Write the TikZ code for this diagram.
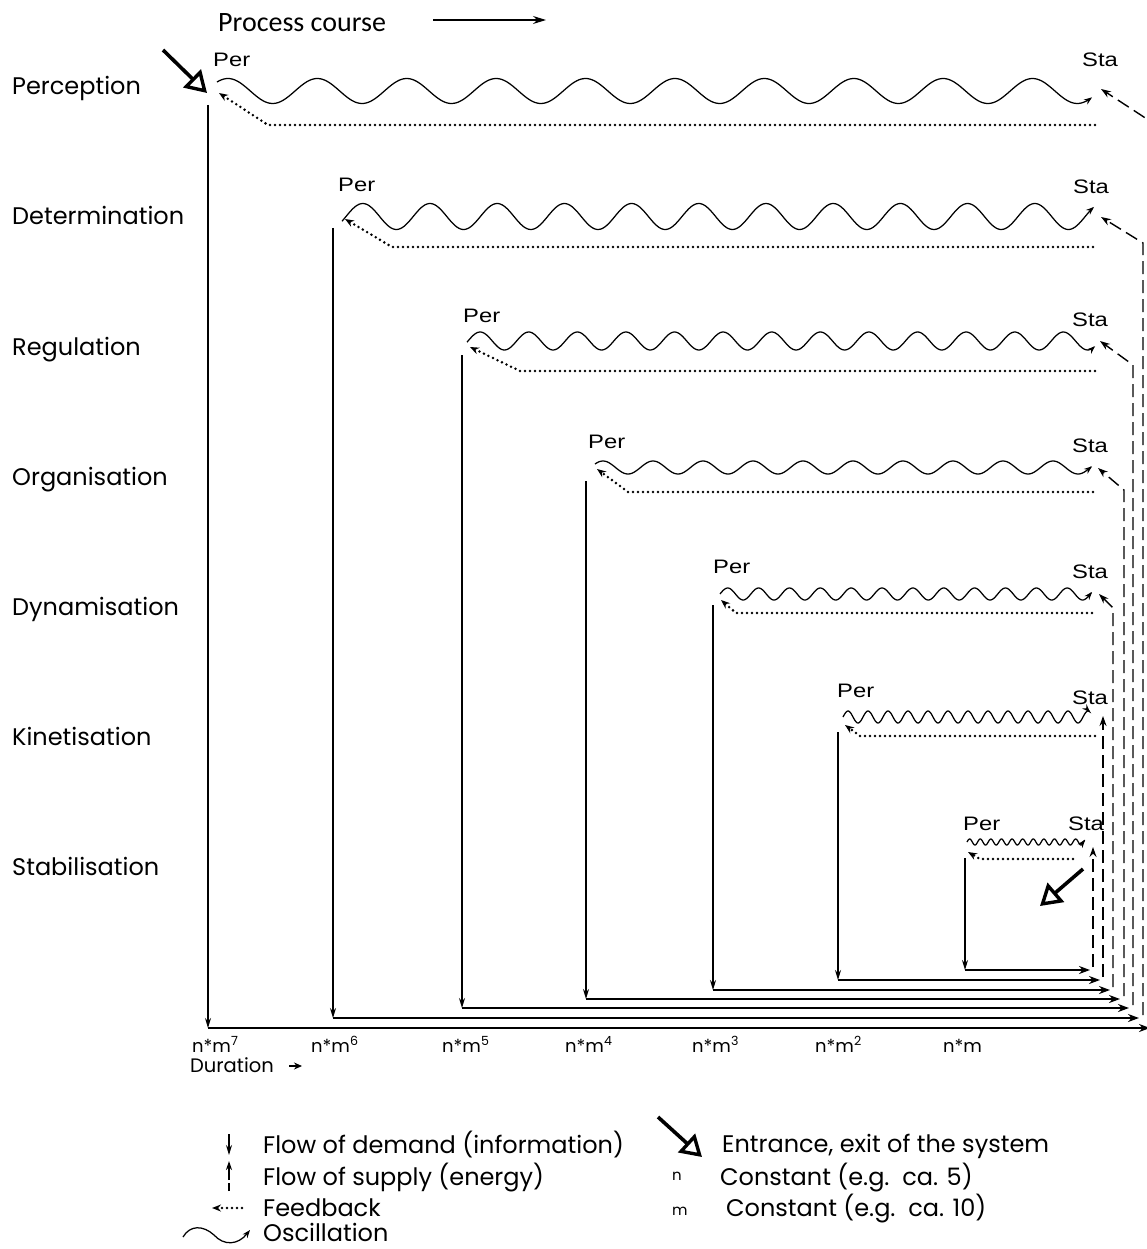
\documentclass[tikz,border=0pt]{standalone}
\usepackage{fontspec}
\usetikzlibrary{arrows.meta}
\newfontfamily\gothic{Poppins}
\newfontfamily\helvw[FakeStretch=1.22]{Liberation Sans}
\newfontfamily\calib{Carlito}

% oscillation: #1 x of phase 0, #2 centre y, #3 amplitude, #4 period, #5 start x, #6 end x
\newcommand\oscwave[6]{%
  \pgfmathsetmacro\oscA{(#5-#1)/#4*360}%
  \pgfmathsetmacro\oscB{(#6-#1)/#4*360}%
  \draw[osc] plot[variable=\t,domain=\oscA:\oscB,samples=400,smooth]
    ({#1+\t/360*#4},{#2-#3*sin(\t)});
}
\newcommand\nmexp[1]{n*m\textsuperscript{#1}}

\begin{document}
\begin{tikzpicture}[x=1pt,y=-1pt,
  lvl/.style={font=\gothic\fontsize{24}{28}\selectfont,anchor=base west,inner sep=0pt},
  tag/.style={font=\helvw\fontsize{19.5}{22}\selectfont,anchor=base west,inner sep=0pt},
  dur/.style={font=\gothic\fontsize{18}{20}\selectfont,anchor=base west,inner sep=0pt},
  small/.style={font=\gothic\fontsize{15}{17}\selectfont,anchor=base west,inner sep=0pt},
  osc/.style={line width=1.25pt,-{Stealth[length=8pt,width=6pt]}},
  demand/.style={line width=1.3pt,-{Stealth[length=10pt,width=6pt]}},
  supply/.style={line width=2.6pt,-{Stealth[length=11pt,width=8pt]}},
  ret/.style={line width=1.4pt,dash pattern=on 13pt off 6pt,-{Stealth[length=10pt,width=7pt]}},
  fb/.style={line width=2.8pt,line cap=round,dash pattern=on 0pt off 5pt,-{Stealth[length=9pt,width=7pt]}},
  io/.style={line width=3.6pt,-{Triangle[open,length=21pt,width=25pt,line width=3.4pt]}},
]
\fill[white] (0,0) rectangle (1147,1249);
\useasboundingbox (0,0) rectangle (1147,1249);

% heading
\node[font=\calib\fontsize{28}{32}\selectfont,anchor=base west,inner sep=0pt] (course) at (218,32) {Process course};
\coordinate (cA) at (433,20);
\coordinate (cB) at (546,20);
\draw[line width=1.3pt,-{Stealth[length=13pt,width=8pt]}] (cA) -- (cB);

% level names
\node[lvl] (lab1) at (12,95)  {Perception};
\node[lvl] (lab2) at (12,225) {Determination};
\node[lvl] (lab3) at (12,355) {Regulation};
\node[lvl] (lab4) at (12,485) {Organisation};
\node[lvl] (lab5) at (12,615) {Dynamisation};
\node[lvl] (lab6) at (12,745) {Kinetisation};
\node[lvl] (lab7) at (12,875) {Stabilisation};

% Per / Sta tags
\node[tag] (per1) at (213,67)  {Per}; \node[tag] (sta1) at (1082,67)  {Sta};
\node[tag] (per2) at (338,192) {Per}; \node[tag] (sta2) at (1073,194) {Sta};
\node[tag] (per3) at (463,322) {Per}; \node[tag] (sta3) at (1072,326) {Sta};
\node[tag] (per4) at (588,448) {Per}; \node[tag] (sta4) at (1072,452) {Sta};
\node[tag] (per5) at (713,573) {Per}; \node[tag] (sta5) at (1072,578) {Sta};
\node[tag] (per6) at (837,697) {Per}; \node[tag] (sta6) at (1072,704) {Sta};
\node[tag] (per7) at (963,830) {Per}; \node[tag] (sta7) at (1068,830) {Sta};

% oscillations
\oscwave{205.6}{91}{12.5}{89.4}{217}{1092}
\oscwave{346}{216.5}{13}{67.2}{342}{1094}
\oscwave{468}{341}{9}{48.6}{467}{1095}
\oscwave{590.5}{467.5}{6.5}{50}{595}{1092}
\oscwave{720}{594}{6}{30.86}{720}{1092}
\oscwave{843}{717}{6}{20}{843}{1090}
\oscwave{967}{842}{3}{10.6}{967}{1085}

% connector points per level
\coordinate (dT1) at (208,105);  \coordinate (dB1) at (208,1028); \coordinate (hE1) at (1150,1028);
\coordinate (rB1) at (1153,1025); \coordinate (rK1) at (1153,123); \coordinate (rT1) at (1101,89);
\coordinate (fR1) at (1095,125); \coordinate (fK1) at (268,125); \coordinate (fT1) at (219,93);

\coordinate (dT2) at (333,228);  \coordinate (dB2) at (333,1018); \coordinate (hE2) at (1139,1018);
\coordinate (rB2) at (1143,1015); \coordinate (rK2) at (1143,243); \coordinate (rT2) at (1101,217);
\coordinate (fR2) at (1093,247); \coordinate (fK2) at (392,247); \coordinate (fT2) at (345,219);

\coordinate (dT3) at (462,355);  \coordinate (dB3) at (462,1008); \coordinate (hE3) at (1129,1008);
\coordinate (rB3) at (1133,1005); \coordinate (rK3) at (1133,365); \coordinate (rT3) at (1100,341);
\coordinate (fR3) at (1095,371); \coordinate (fK3) at (520,371); \coordinate (fT3) at (470,347);

\coordinate (dT4) at (586,481);  \coordinate (dB4) at (586,999); \coordinate (hE4) at (1120,999);
\coordinate (rB4) at (1124,996); \coordinate (rK4) at (1124,490); \coordinate (rT4) at (1098,468);
\coordinate (fR4) at (1093,492); \coordinate (fK4) at (628,492); \coordinate (fT4) at (597,469);

\coordinate (dT5) at (713,605);  \coordinate (dB5) at (713,990); \coordinate (hE5) at (1110,990);
\coordinate (rB5) at (1113,987); \coordinate (rK5) at (1113,608); \coordinate (rT5) at (1099,594);
\coordinate (fR5) at (1092,613); \coordinate (fK5) at (736,613); \coordinate (fT5) at (721,600);

\coordinate (dT6) at (838,732);  \coordinate (dB6) at (838,980); \coordinate (hE6) at (1100,980);
\coordinate (rB6) at (1103,977); \coordinate (rT6) at (1103,716);
\coordinate (fR6) at (1095,736); \coordinate (fK6) at (860,736); \coordinate (fT6) at (845,725);

\coordinate (dT7) at (965,858);  \coordinate (dB7) at (965,970); \coordinate (hE7) at (1090,970);
\coordinate (rB7) at (1093,967); \coordinate (rT7) at (1093,847);
\coordinate (fR7) at (1073,859); \coordinate (fK7) at (980,859); \coordinate (fT7) at (968,852);

% flow of demand (down), flow of supply (along the bottom), return to Sta, feedback
\foreach \i in {1,...,7}{
  \draw[demand] (dT\i) -- (dB\i);
  \draw[supply] (dB\i) -- (hE\i);
  \draw[fb] (fR\i) -- (fK\i) -- (fT\i);
}
\foreach \i in {1,...,5}{
  \draw[ret] (rB\i) -- (rK\i) -- (rT\i);
}
\draw[ret] (rB6) -- (rT6);
\draw[ret] (rB7) -- (rT7);

% entrance and exit of the system
\coordinate (inA) at (163,50);  \coordinate (inB) at (207,93);
\draw[io] (inA) -- (inB);
\coordinate (outA) at (1083,869); \coordinate (outB) at (1040,906);
\draw[io] (outA) -- (outB);

% duration scale
\node[dur] (t7) at (192,1052) {\nmexp{7}};
\node[dur] (t6) at (311,1052) {\nmexp{6}};
\node[dur] (t5) at (442,1052) {\nmexp{5}};
\node[dur] (t4) at (565,1052) {\nmexp{4}};
\node[dur] (t3) at (692,1052) {\nmexp{3}};
\node[dur] (t2) at (815,1052) {\nmexp{2}};
\node[dur] (t1) at (943,1052) {n*m};
\node[dur,font=\gothic\fontsize{19.5}{22}\selectfont] (dura) at (190,1072) {Duration};
\coordinate (duA) at (289,1066); \coordinate (duB) at (302,1066);
\draw[line width=1.6pt,-{Stealth[length=8pt,width=7pt]}] (duA) -- (duB);

% legend
\coordinate (lg1a) at (229,1134); \coordinate (lg1b) at (229,1155);
\draw[demand] (lg1a) -- (lg1b);
\coordinate (lg2a) at (229,1191); \coordinate (lg2b) at (229,1161);
\draw[line width=1.3pt,dash pattern=on 8pt off 3pt on 30pt,-{Stealth[length=9pt,width=6pt]}] (lg2a) -- (lg2b);
\coordinate (lg3a) at (242,1208); \coordinate (lg3b) at (212,1208);
\draw[fb] (lg3a) -- (lg3b);
\coordinate (lg4a) at (183,1237); \coordinate (lg4m) at (214,1235); \coordinate (lg4b) at (250,1230);
\draw[osc] (lg4a) .. controls (190,1225) and (203,1225) .. (lg4m) .. controls (224,1246) and (238,1245) .. (lg4b);
\node[lvl] (lgt1) at (263,1153) {Flow of demand (information)};
\node[lvl] (lgt2) at (263,1185) {Flow of supply (energy)};
\node[lvl] (lgt3) at (263,1216) {Feedback};
\node[lvl] (lgt4) at (263,1241) {Oscillation};

\coordinate (lg5a) at (658,1117); \coordinate (lg5b) at (702,1157);
\draw[io] (lg5a) -- (lg5b);
\node[lvl] (lgt5) at (722,1152) {Entrance, exit of the system};
\node[small] (lgn) at (672,1180) {n};
\node[lvl] (lgt6) at (720,1185) {Constant (e.g.\ \ ca. 5)};
\node[small] (lgm) at (672,1215) {m};
\node[lvl] (lgt7) at (726,1216) {Constant (e.g.\ \ ca. 10)};
\end{tikzpicture}
\end{document}
